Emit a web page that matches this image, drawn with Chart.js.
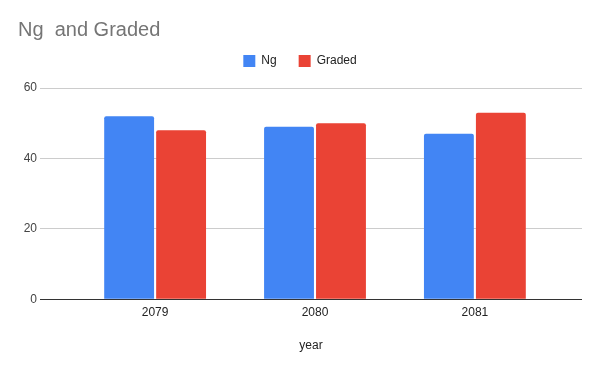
<!DOCTYPE html>
<html>
<head>
<meta charset="utf-8">
<script src="https://cdn.jsdelivr.net/npm/chart.js@4"></script>
<style>
  html, body { margin: 0; padding: 0; background: #fff; }
  #wrap { width: 600px; height: 371px; }
</style>
</head>
<body>
<div id="wrap"><canvas id="chart"></canvas></div>
<script>
// data
const years = [2079, 2080, 2081];
const ngValues = [52, 49, 47];
const gradedValues = [48, 50, 53];
const yTicks = [0, 20, 40, 60];

const font = "'Liberation Sans', Arial, sans-serif";

const ctx = document.getElementById('chart').getContext('2d');

// extra room between the legend and the plot
const legendGap = {
    id: 'legendGap',
    afterInit(chart) {
        const legend = chart.legend;
        const fit = legend.fit.bind(legend);
        legend.fit = function () {
            fit();
            this.height += 11;
        };
    }
};

new Chart(ctx, {
    type: 'bar',
    data: {
        datasets: [
            {
                label: 'Ng',
                data: years.map((y, i) => ({ x: y, y: ngValues[i] })),
                backgroundColor: '#4285F4',
                borderRadius: 2,
                categoryPercentage: 0.65,
                barPercentage: 0.96
            },
            {
                label: 'Graded',
                data: years.map((y, i) => ({ x: y, y: gradedValues[i] })),
                backgroundColor: '#EA4335',
                borderRadius: 2,
                categoryPercentage: 0.65,
                barPercentage: 0.96
            }
        ]
    },
    plugins: [legendGap],
    options: {
        responsive: true,
        maintainAspectRatio: false,
        animation: false,
        layout: { padding: { left: 18, right: 18, top: 8, bottom: 14 } },
        plugins: {
            title: {
                display: true,
                text: 'Ng  and Graded',
                align: 'start',
                color: '#757575',
                font: { family: font, size: 20, weight: 'normal' },
                padding: { top: 10, bottom: -9 }
            },
            legend: {
                labels: {
                    color: '#222',
                    font: { family: font, size: 12 },
                    boxWidth: 12,
                    boxHeight: 12,
                    padding: 22
                }
            },
            tooltip: { enabled: false }
        },
        scales: {
            x: {
                type: 'linear',
                min: 2078.28,
                max: 2081.67,
                offset: false,
                afterBuildTicks: axis => { axis.ticks = years.map(v => ({ value: v })); },
                ticks: {
                    color: '#222',
                    font: { family: font, size: 12 },
                    padding: 6,
                    callback: v => String(v)
                },
                grid: { display: false, drawTicks: false },
                border: { display: false },
                title: {
                    display: true,
                    text: 'year',
                    color: '#222',
                    font: { family: font, size: 12 },
                    padding: { top: 13 }
                }
            },
            y: {
                min: 0,
                max: 60,
                afterBuildTicks: axis => { axis.ticks = yTicks.map(v => ({ value: v })); },
                afterFit: axis => { axis.width = 22; },
                ticks: {
                    color: '#444',
                    font: { family: font, size: 12 },
                    padding: 3
                },
                grid: {
                    drawTicks: false,
                    color: ctx => ctx.tick && ctx.tick.value === 0 ? '#333' : '#cccccc'
                },
                border: { display: false }
            }
        }
    }
});
</script>
</body>
</html>
